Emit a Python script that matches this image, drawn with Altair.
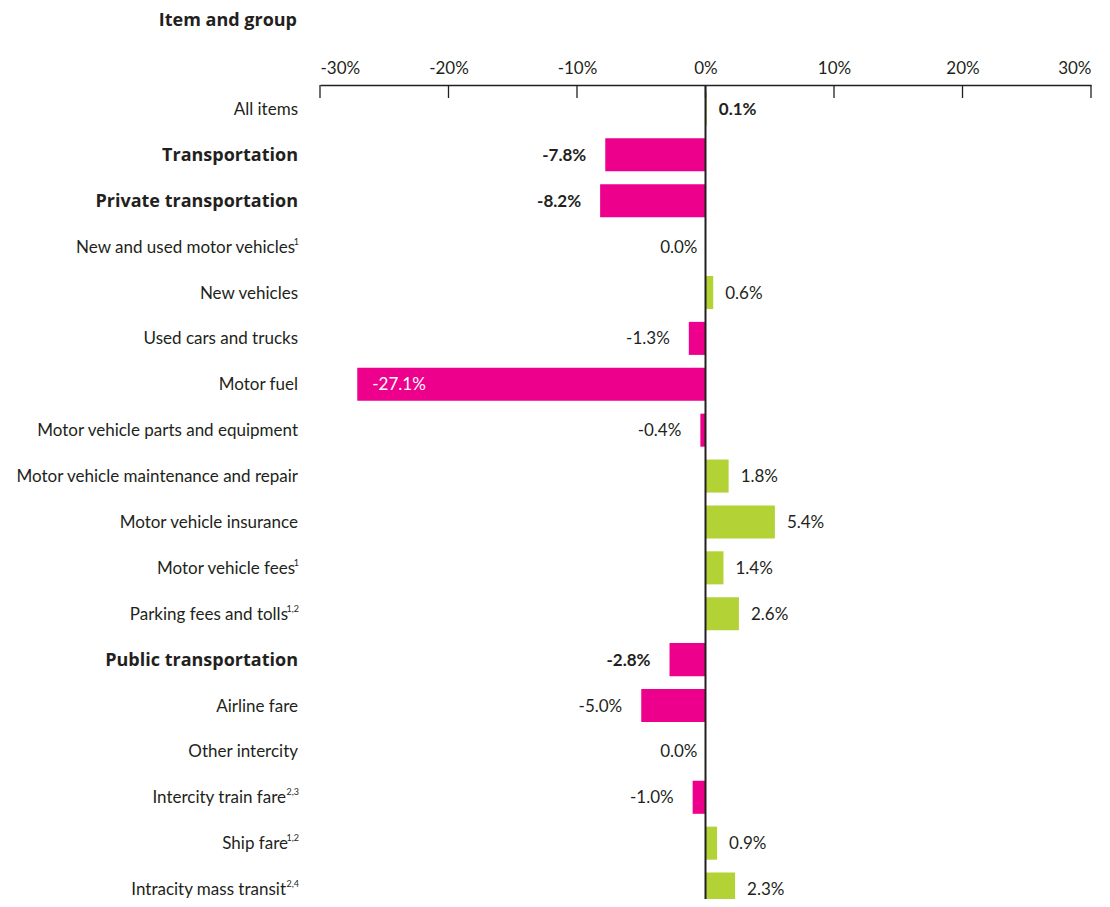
import altair as alt
import pandas as pd

items = [
    "All items", "Transportation", "Private transportation",
    "New and used motor vehicles", "New vehicles", "Used cars and trucks",
    "Motor fuel", "Motor vehicle parts and equipment",
    "Motor vehicle maintenance and repair", "Motor vehicle insurance",
    "Motor vehicle fees", "Parking fees and tolls", "Public transportation",
    "Airline fare", "Other intercity", "Intercity train fare", "Ship fare",
    "Intracity mass transit",
]
values = [0.1, -7.8, -8.2, 0.0, 0.6, -1.3, -27.1, -0.4, 1.8, 5.4, 1.4, 2.6,
          -2.8, -5.0, 0.0, -1.0, 0.9, 2.3]
sups = ["", "", "", "1", "", "", "", "", "", "", "1", "1,2", "", "", "",
        "2,3", "1,2", "2,4"]
label_bold = [False, True, True, False, False, False, False, False, False,
              False, False, False, True, False, False, False, False, False]
value_bold = [True, True, True, False, False, False, False, False, False,
              False, False, False, True, False, False, False, False, False]
ticks = [-30, -20, -10, 0, 10, 20, 30]

df = pd.DataFrame({"item": items, "value": values, "sup": sups,
                   "lbold": label_bold, "vbold": value_bold})

FONT = "Lato"
BFONT = "Open Sans"
INK = "#231f20"
MAG = "#EC008C"
GREEN = "#B3D235"
W, H, HFULL = 771, 814, 826
FS = 17

xs = alt.Scale(domain=[-30, 30], nice=False, zero=True)
yenc = alt.Y("item:N", sort=items, axis=None,
             scale=alt.Scale(range=[1, HFULL + 1], paddingInner=0.28, paddingOuter=0.14))

base = alt.Chart(df)

bars = base.mark_bar().encode(
    x=alt.X("value:Q", scale=xs, stack=None,
            axis=alt.Axis(orient="top", values=ticks, ticks=False, grid=False,
                          labelExpr="datum.value + '%'", labelFont=FONT,
                          labelFontSize=FS, labelColor=INK, labelPadding=8,
                          domainColor=INK, domainWidth=1.5, title=None)),
    x2=alt.datum(0),
    y=yenc,
    color=alt.condition("datum.value < 0", alt.value(MAG), alt.value(GREEN)),
)

tick_rules = alt.Chart(pd.DataFrame({"t": ticks})).mark_rule(
    color=INK, strokeWidth=1.3).encode(
    x=alt.X("t:Q", scale=xs), y=alt.value(0), y2=alt.value(13))

zero_line = alt.Chart(pd.DataFrame({"z": [0]})).mark_rule(
    color=INK, strokeWidth=2).encode(
    x=alt.X("z:Q", scale=xs), y=alt.value(0), y2=alt.value(HFULL))

label_expr = ("(datum.value < 0 ? '-' : '') + format(abs(datum.value), '.1f') + '%'")
layers = [bars]

kinds = [
    ("datum.value > 0", dict(align="left", dx=12, color=INK)),
    ("datum.value < 0 && datum.value > -20", dict(align="right", dx=-19, color=INK)),
    ("datum.value == 0", dict(align="right", dx=-8, color=INK)),
    ("datum.value <= -20", dict(align="left", dx=15, color="white")),
]
for cond, style in kinds:
    for b in (True, False):
        bcond = "datum.vbold" if b else "!datum.vbold"
        layers.append(
            base.transform_filter(f"({cond}) && {bcond}")
            .transform_calculate(lbl=label_expr)
            .mark_text(baseline="middle", font=FONT, fontSize=FS, dy=1,
                       fontWeight="bold" if b else "normal", **style)
            .encode(x=alt.X("value:Q", scale=xs), y=yenc, text="lbl:N")
        )

sup_off = {"": 0, "1": 3, "1,2": 10, "2,3": 12, "2,4": 12}
for s, off in sup_off.items():
    for b in (True, False):
        bcond = "datum.lbold" if b else "!datum.lbold"
        layers.append(
            base.transform_filter(f"datum.sup == '{s}' && {bcond}")
            .mark_text(align="right", baseline="middle", dy=1,
                       font=BFONT if b else FONT, fontSize=18 if b else FS,
                       color=INK, fontWeight="bold" if b else "normal")
            .encode(x=alt.value(-22 - off), y=yenc, text="item:N")
        )

layers.append(
    base.transform_filter("datum.sup != ''")
    .mark_text(align="right", baseline="middle", font=FONT, fontSize=9,
               color=INK, dy=-5)
    .encode(x=alt.value(-21), y=yenc, text="sup:N")
)

title = alt.Chart(pd.DataFrame({"t": ["Item and group"]})).mark_text(
    align="right", baseline="middle", font=BFONT, fontSize=18,
    fontWeight="bold", color=INK).encode(
    x=alt.value(-23), y=alt.value(-64), text="t:N")

layers += [tick_rules, zero_line, title]

chart = alt.layer(*layers).properties(
    width=W, height=H,
    padding={"left": 312, "top": 77, "right": 11, "bottom": 0},
    autosize=alt.AutoSizeParams(type="none"),
).configure_view(stroke=None)

chart.save("out.html", embed_options={"renderer": "svg", "actions": False})
